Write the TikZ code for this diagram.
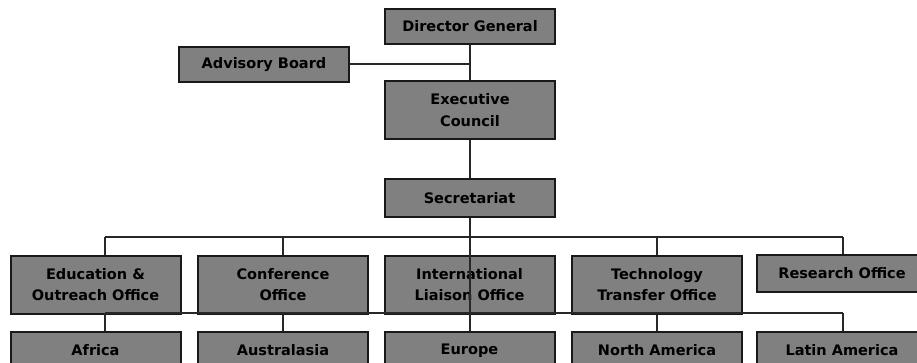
\documentclass[tikz,border=0pt]{standalone}
\usepackage{fontspec}
\setsansfont{DejaVu Sans}
\usepackage{tikz}
\usetikzlibrary{positioning,calc}
\definecolor{boxgray}{RGB}{128,128,128}
\definecolor{linegray}{RGB}{40,40,40}

\begin{document}
\begin{tikzpicture}[x=1pt,y=-1pt,
        unit/.style={draw=black!90,line width=2pt,fill=boxgray,minimum width=170pt,
            inner sep=0pt,align=center,font=\sffamily\bfseries\fontsize{14.5}{21.5}\selectfont},
        wire/.style={draw=linegray,line width=2pt}]
            \useasboundingbox (0,0) rectangle (917,363);
            \clip (0,0) rectangle (917,363);
            \node[unit,minimum height=35pt] (dg) at (470,26.5) {Director General};
            \node[unit,minimum height=35pt] (adv) at (264,64.5) {Advisory Board};
            \node[unit,minimum height=58pt] (exec) at (470,110) {Executive\\Council};
            \node[unit,minimum height=38pt] (sec) at (469.5,198) {Secretariat};
            \node[unit,minimum height=58pt] (edu) at (95.5,284.5) {Education \&\\Outreach Office};
            \node[unit,minimum height=58pt] (conf) at (283,284.5) {Conference\\Office};
            \node[unit,minimum height=58pt] (intl) at (469.5,284.5) {International\\Liaison Office};
            \node[unit,minimum height=58pt] (tech) at (657,284.5) {Technology\\Transfer Office};
            \node[unit,minimum height=37pt] (res) at (842,273.5) {Research Office};
            \node[unit,minimum height=37pt] (afr) at (95.5,350.5) {Africa};
            \node[unit,minimum height=37pt] (aus) at (283,350.5) {Australasia};
            \node[unit,minimum height=37pt] (eur) at (469.5,350.5) {Europe};
            \node[unit,minimum height=37pt] (nam) at (657,350.5) {North America};
            \node[unit,minimum height=37pt] (lam) at (842,350.5) {Latin America};
            \coordinate (upL) at (105,237);
            \coordinate (upR) at (843,237);
            \coordinate (lowL) at (105,313);
            \coordinate (lowR) at (843,313);
            \draw[wire] (dg.south) -- (dg.south |- exec.north);
            \draw[wire] (adv.east) -- (adv.east -| dg.south);
            \draw[wire] (exec.south) -- (exec.south |- sec.north);
            \draw[wire] (sec.south) -- (sec.south |- eur.north);
            \draw[wire] (upL) -- (upR);
            \draw[wire] (upL) -- (upL |- edu.north);
            \draw[wire] (conf.north |- upL) -- (conf.north);
            \draw[wire] (tech.north |- upL) -- (tech.north);
            \draw[wire] (upR) -- (upR |- res.north);
            \draw[wire] (lowL) -- (lowR);
            \draw[wire] (lowL) -- (lowL |- afr.north);
            \draw[wire] (conf.south) -- (aus.north);
            \draw[wire] (tech.south) -- (nam.north);
            \draw[wire] (lowR) -- (lowR |- lam.north);
        \end{tikzpicture}
\end{document}
